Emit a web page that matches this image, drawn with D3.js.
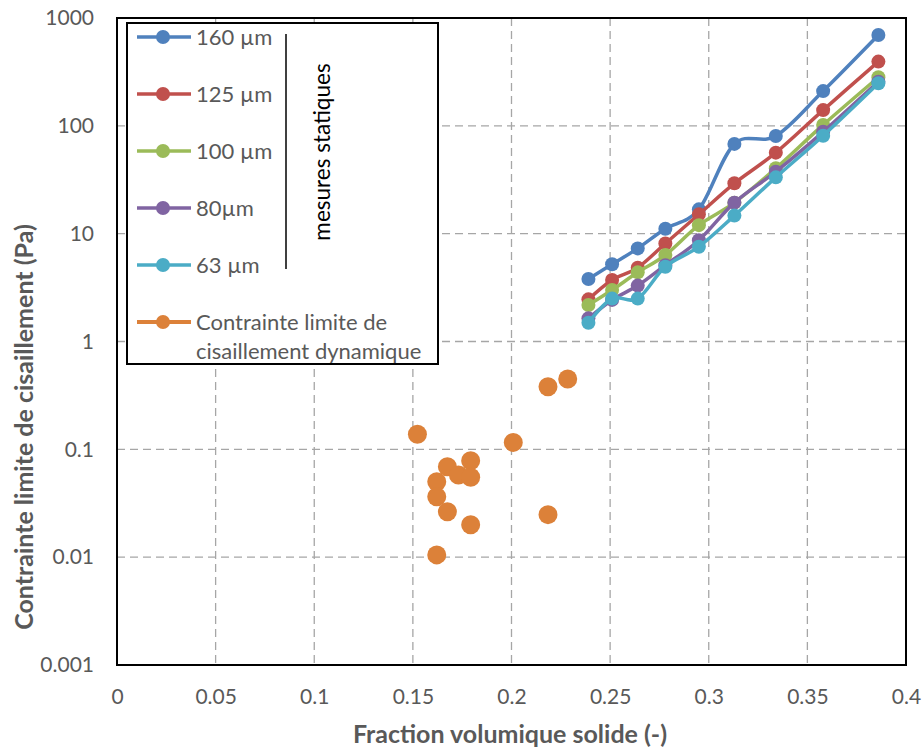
<!DOCTYPE html>
<html><head><meta charset="utf-8">
<script src="https://cdn.jsdelivr.net/npm/d3@7"></script>
<style>body{margin:0;background:#fff}svg{display:block}text{font-family:Lato,"Open Sans",sans-serif}</style>
</head><body><svg id="c" width="923" height="751"></svg>
<script>
const xStatic = [0.239, 0.251, 0.264, 0.278, 0.295, 0.313, 0.334, 0.358, 0.386];
const s160 = [3.8, 5.2, 7.3, 11.1, 16.8, 68, 80.5, 210, 695];
const s125 = [2.46, 3.72, 4.84, 8.1, 15.1, 29.3, 56.4, 140, 394];
const s100 = [2.18, 3.0, 4.38, 6.34, 12.0, 19.4, 40.4, 102, 282];
const s80 = [1.64, 2.43, 3.3, 5.1, 8.7, 19.4, 37.6, 88, 257];
const s63 = [1.49, 2.5, 2.5, 4.94, 7.57, 14.7, 33.3, 81, 248];
const dynX = [0.1523, 0.1621, 0.1621, 0.1675, 0.1731, 0.1793, 0.1793, 0.1675, 0.1793, 0.1621, 0.2009, 0.2185, 0.2285, 0.2185];
const dynY = [0.138, 0.050, 0.0364, 0.069, 0.0578, 0.0785, 0.055, 0.0264, 0.020, 0.0105, 0.116, 0.381, 0.449, 0.0248];
const xTicks = [0, 0.05, 0.1, 0.15, 0.2, 0.25, 0.3, 0.35, 0.4];
const yTicks = [0.001, 0.01, 0.1, 1, 10, 100, 1000];
const seriesNames = ["160 µm", "125 µm", "100 µm", "80µm", "63 µm"];
const colors = ["#4f81bd", "#c0504d", "#9bbb59", "#8064a2", "#4bacc6"];
const dynName = ["Contrainte limite de", "cisaillement dynamique"];
const dynColor = "#dc8139";

const svg = d3.select("#c");
const L = 117, R = 906, T = 18, B = 665;
const x = d3.scaleLinear().domain([0, 0.4]).range([L, R]);
const y = d3.scaleLog().domain([0.001, 1000]).range([B, T]);

// grid
const g = svg.append("g");
g.selectAll(".vg").data(xTicks.slice(1, -1)).join("line")
  .attr("x1", d => x(d)).attr("x2", d => x(d)).attr("y1", T).attr("y2", B)
  .attr("stroke", "#a6a6a6").attr("stroke-width", 1.3).attr("stroke-dasharray", "8,5");
g.selectAll(".hg").data(yTicks.slice(1, -1)).join("line")
  .attr("x1", L).attr("x2", R).attr("y1", d => y(d)).attr("y2", d => y(d))
  .attr("stroke", "#a6a6a6").attr("stroke-width", 1.3).attr("stroke-dasharray", "8,5");

// axes labels via d3 axes
const xAxis = d3.axisBottom(x).tickValues(xTicks).tickSize(0).tickPadding(24).tickFormat(d => String(d));
const xg = svg.append("g").attr("transform", `translate(0,${B})`).call(xAxis);
xg.select(".domain").remove();
xg.selectAll("text").attr("fill", "#595959").attr("font-size", 21).attr("font-family", "Lato");
const yAxis = d3.axisLeft(y).tickValues(yTicks).tickSize(0).tickPadding(23).tickFormat(d => String(d));
const yg = svg.append("g").attr("transform", `translate(${L},0)`).call(yAxis);
yg.select(".domain").remove();
yg.selectAll("text").attr("fill", "#595959").attr("font-size", 21).attr("font-family", "Lato");

// frame
svg.append("rect").attr("x", L).attr("y", T).attr("width", R - L).attr("height", B - T)
  .attr("fill", "none").attr("stroke", "#000").attr("stroke-width", 2);

// lines
const allS = [s160, s125, s100, s80, s63];
const line = d3.line().x(d => x(d[0])).y(d => y(d[1])).curve(d3.curveCardinal.tension(0));
const drawOrder = [0, 1, 2, 3, 4];
drawOrder.forEach(i => {
  const pts = xStatic.map((v, j) => [v, allS[i][j]]);
  svg.append("path").attr("d", line(pts)).attr("fill", "none")
    .attr("stroke", colors[i]).attr("stroke-width", 3.5).attr("stroke-linejoin", "round");
  svg.selectAll(null).data(pts).join("circle")
    .attr("cx", d => x(d[0])).attr("cy", d => y(d[1])).attr("r", 7).attr("fill", colors[i]);
});
svg.selectAll(null).data(dynX.map((v, j) => [v, dynY[j]])).join("circle")
  .attr("cx", d => x(d[0])).attr("cy", d => y(d[1])).attr("r", 9.5).attr("fill", dynColor);

// legend
const lg = svg.append("g");
lg.append("rect").attr("x", 127).attr("y", 23).attr("width", 311).attr("height", 341)
  .attr("fill", "#fff").attr("stroke", "#000").attr("stroke-width", 2);
const ly = [37, 94, 151, 208, 265];
seriesNames.forEach((n, i) => {
  lg.append("line").attr("x1", 137).attr("x2", 191).attr("y1", ly[i]).attr("y2", ly[i])
    .attr("stroke", colors[i]).attr("stroke-width", 3.5);
  lg.append("circle").attr("cx", 163).attr("cy", ly[i]).attr("r", 7).attr("fill", colors[i]);
  lg.append("text").attr("x", 196).attr("y", ly[i]).attr("dy", "0.35em")
    .attr("font-size", 22).attr("fill", "#595959").text(n);
});
lg.append("line").attr("x1", 137).attr("x2", 191).attr("y1", 322).attr("y2", 322)
  .attr("stroke", dynColor).attr("stroke-width", 4);
lg.append("circle").attr("cx", 163).attr("cy", 322).attr("r", 7).attr("fill", dynColor);
lg.append("text").attr("x", 196).attr("y", 322).attr("dy", "0.35em")
  .attr("font-size", 22).attr("fill", "#595959").text(dynName[0]);
lg.append("text").attr("x", 196).attr("y", 351).attr("dy", "0.35em")
  .attr("font-size", 22).attr("fill", "#595959").text(dynName[1]);
lg.append("line").attr("x1", 286).attr("x2", 286).attr("y1", 34).attr("y2", 269)
  .attr("stroke", "#000").attr("stroke-width", 1.5);
lg.append("text").attr("transform", "translate(322,152) rotate(-90)").attr("text-anchor", "middle")
  .attr("dy", "0.35em").attr("font-size", 22.5).attr("fill", "#000").text("mesures statiques");

// titles
svg.append("text").attr("x", 510).attr("y", 734).attr("dy", "0.35em").attr("text-anchor", "middle")
  .attr("font-size", 25).attr("font-weight", "bold").attr("fill", "#595959").text("Fraction volumique solide (-)");
svg.append("text").attr("transform", "translate(24,427) rotate(-90)").attr("text-anchor", "middle")
  .attr("dy", "0.35em").attr("font-size", 25).attr("font-weight", "bold").attr("fill", "#595959")
  .text("Contrainte limite de cisaillement (Pa)");
</script></body></html>
